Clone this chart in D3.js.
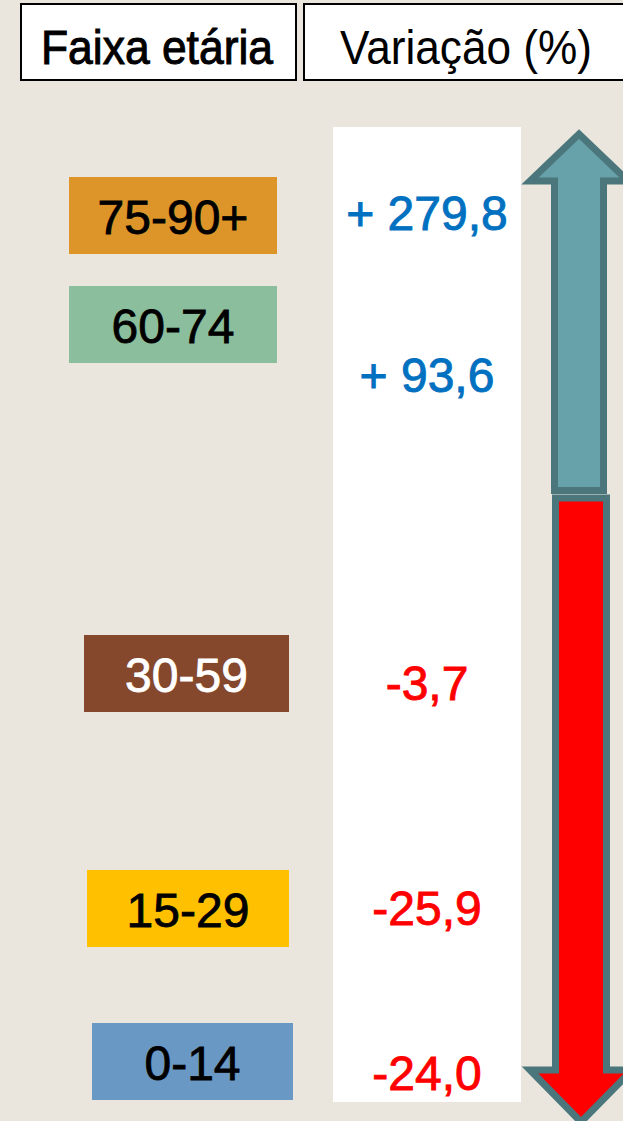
<!DOCTYPE html>
<html lang="pt">
<head>
<meta charset="UTF-8">
<title>Variação por faixa etária</title>
<style>
  body { margin: 0; padding: 0; background: #ebe6dd; overflow: hidden; }
  svg { display: block; font-family: 'Liberation Sans', Arial, sans-serif; }
</style>
</head>
<body>
<div id="chart"></div>
<script src="https://d3js.org/d3.v7.min.js"></script>
<script>
const groups = ["75-90+", "60-74", "30-59", "15-29", "0-14"];
const variation = [279.8, 93.6, -3.7, -25.9, -24.0];
const groupColors = ["#dd9529", "#8bbe9c", "#86482c", "#ffc000", "#6a98c4"];
const labelColors = ["#000000", "#000000", "#ffffff", "#000000", "#000000"];
const headers = ["Faixa etária", "Variação (%)"];

const width = 623, height = 1121;

// layout of the slide (px)
const boxY = d3.scaleOrdinal().domain(groups).range([177, 286, 635, 870, 1023]);
const boxX = d3.scaleOrdinal().domain(groups).range([69, 69, 84, 87, 92]);
const boxW = d3.scaleOrdinal().domain(groups).range([208, 208, 205, 202, 201]);
const valueY = d3.scaleOrdinal().domain(groups).range([230, 392, 700, 925, 1090]);
const boxH = 77;

const ptBR = d3.formatLocale({ decimal: ",", thousands: ".", grouping: [3], currency: ["R$", ""], minus: "-" });
const fmt = ptBR.format(".1f");
const label = v => v > 0 ? "+ " + fmt(v) : fmt(v);

const svg = d3.select('#chart').append('svg')
    .attr('width', width)
    .attr('height', height);

svg.append('rect').attr('width', width).attr('height', height).attr('fill', '#ebe6dd');

// header boxes
const head = svg.selectAll('.head')
    .data(headers)
    .enter().append('g')
    .attr('class', 'head');

head.append('rect')
    .attr('x', (d, i) => i === 0 ? 21 : 304)
    .attr('y', 4)
    .attr('width', (d, i) => i === 0 ? 275 : 330)
    .attr('height', 76)
    .attr('fill', '#fff')
    .attr('stroke', '#000')
    .attr('stroke-width', 2);

head.append('text')
    .attr('x', (d, i) => i === 0 ? 41 : 340)
    .attr('y', 64)
    .attr('font-size', 48)
    .attr('textLength', (d, i) => i === 0 ? 232 : 252)
    .attr('lengthAdjust', 'spacingAndGlyphs')
    .attr('fill', '#000')
    .attr('stroke', '#000')
    .attr('stroke-width', (d, i) => i === 0 ? 1 : 0)
    .text(d => d);

// white value column
svg.append('rect')
    .attr('x', 333).attr('y', 127)
    .attr('width', 188).attr('height', 975)
    .attr('fill', '#fff');

// age group boxes
const rows = groups.map((g, i) => ({ g, v: variation[i], c: groupColors[i], t: labelColors[i] }));

const box = svg.selectAll('.box')
    .data(rows)
    .enter().append('g')
    .attr('class', 'box');

box.append('rect')
    .attr('x', d => boxX(d.g))
    .attr('y', d => boxY(d.g))
    .attr('width', d => boxW(d.g))
    .attr('height', boxH)
    .attr('fill', d => d.c);

box.append('text')
    .attr('x', d => boxX(d.g) + boxW(d.g) / 2)
    .attr('y', d => boxY(d.g) + boxH / 2 + 18)
    .attr('text-anchor', 'middle')
    .attr('font-size', 48)
    .attr('fill', d => d.t)
    .attr('stroke', d => d.t)
    .attr('stroke-width', 0.8)
    .text(d => d.g);

// values
svg.selectAll('.val')
    .data(rows)
    .enter().append('text')
    .attr('class', 'val')
    .attr('x', 427)
    .attr('y', d => valueY(d.g))
    .attr('text-anchor', 'middle')
    .attr('font-size', 48)
    .attr('fill', d => d.v > 0 ? '#0070c0' : '#ff0000')
    .attr('stroke', d => d.v > 0 ? '#0070c0' : '#ff0000')
    .attr('stroke-width', 0.9)
    .text(d => label(d.v));

// up / down arrows
function arrow(cx, y0, y1, yHead, shaftHalf, headHalf) {
    const line = d3.line();
    return line([
        [cx - shaftHalf, y0], [cx - shaftHalf, yHead], [cx - headHalf, yHead],
        [cx, y1],
        [cx + headHalf, yHead], [cx + shaftHalf, yHead], [cx + shaftHalf, y0]
    ]) + 'Z';
}

const arrows = [
    { d: arrow(579, 490.5, 134, 181, 24.5, 49), fill: '#67a1a9' },
    { d: arrow(581, 498, 1122, 1070, 25.5, 51), fill: '#ff0000' }
];

svg.selectAll('.arrow')
    .data(arrows)
    .enter().append('path')
    .attr('class', 'arrow')
    .attr('d', d => d.d)
    .attr('fill', d => d.fill)
    .attr('stroke', '#4a767c')
    .attr('stroke-width', 7)
    .attr('stroke-linejoin', 'miter')
    .attr('stroke-miterlimit', 10);
</script>
</body>
</html>
